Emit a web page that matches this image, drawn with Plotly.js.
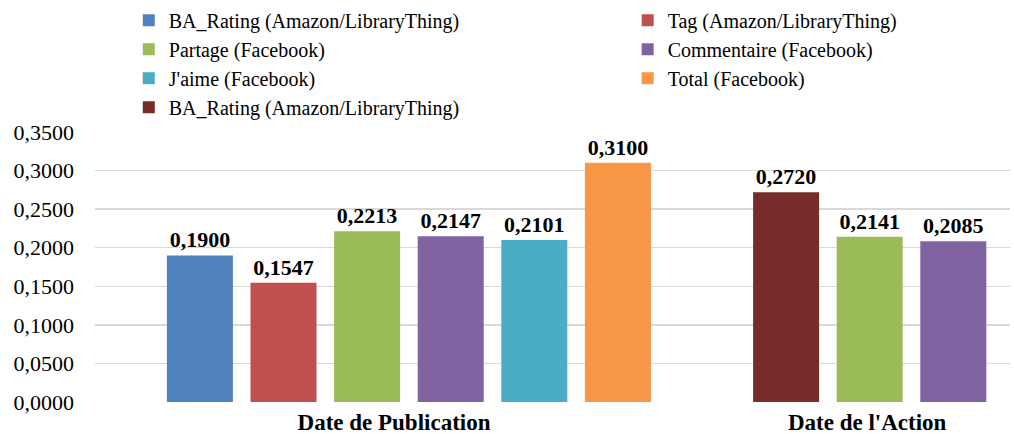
<!DOCTYPE html>
<html>
<head>
<meta charset="utf-8">
<script src="https://cdn.plot.ly/plotly-3.0.1.min.js"></script>
<style>html,body{margin:0;padding:0;background:#fff;}#chart{width:1014px;height:434px;}</style>
</head>
<body>
<div id="chart"></div>
<script>
// ---- data ----
const categories = ['Date de Publication', "Date de l'Action"];
const seriesNames = [
  'BA_Rating (Amazon/LibraryThing)',
  'Tag (Amazon/LibraryThing)',
  'Partage (Facebook)',
  'Commentaire (Facebook)',
  "J'aime (Facebook)",
  'Total (Facebook)',
  'BA_Rating (Amazon/LibraryThing)'
];
const baRatingValues = [0.1900, null];
const tagValues = [0.1547, null];
const partageValues = [0.2213, 0.2141];
const commentaireValues = [0.2147, 0.2085];
const jaimeValues = [0.2101, null];
const totalValues = [0.3100, null];
const baRatingActionValues = [null, 0.2720];
const yTickValues = [0, 0.05, 0.10, 0.15, 0.20, 0.25, 0.30, 0.35];

// ---- styles / layout ----
const seriesValues = [baRatingValues, tagValues, partageValues, commentaireValues, jaimeValues, totalValues, baRatingActionValues];
const colors = ['#4F81BD', '#C0504D', '#9BBB59', '#8064A2', '#4BACC6', '#F79646', '#772C2A'];
const legendOf = ['legend', 'legend2', 'legend', 'legend2', 'legend', 'legend2', 'legend'];
const slotOrder = [[0, 1, 2, 3, 4, 5], [6, 2, 3]];
const groupStart = [-0.480, -0.241];
const pitch = 0.1767;
const barWidth = 0.1395;
const serif = 'Liberation Serif, Times New Roman, Times, serif';

const traces = seriesNames.map((name, s) => {
  const xs = [], ys = [], offs = [];
  seriesValues[s].forEach((v, c) => {
    if (v === null || v === undefined) return;
    xs.push(categories[c]);
    ys.push(v);
    offs.push(groupStart[c] + slotOrder[c].indexOf(s) * pitch);
  });
  return {
    type: 'bar', name: name, x: xs, y: ys,
    offset: offs, width: barWidth,
    legend: legendOf[s],
    marker: {color: colors[s]},
    texttemplate: '%{y:.4f}', textposition: 'outside',
    constraintext: 'none', cliponaxis: false,
    textfont: {family: serif, size: 22, color: '#000', weight: 'bold'},
    hoverinfo: 'skip'
  };
});

const legendFont = {family: serif, size: 20, color: '#000'};
const layout = {
  width: 1014, height: 434,
  margin: {l: 95, r: 4, t: 132, b: 31.5, autoexpand: false},
  paper_bgcolor: '#fff', plot_bgcolor: '#fff',
  separators: ', ',
  barmode: 'overlay',
  showlegend: true,
  font: {family: serif, color: '#000'},
  legend: {
    orientation: 'v', xref: 'container', yref: 'container',
    x: 0.127, xanchor: 'left', y: 0.998, yanchor: 'top',
    font: legendFont, traceorder: 'normal', itemclick: false, itemdoubleclick: false
  },
  legend2: {
    orientation: 'v', xref: 'container', yref: 'container',
    x: 0.619, xanchor: 'left', y: 0.998, yanchor: 'top',
    font: legendFont, traceorder: 'normal', itemclick: false, itemdoubleclick: false
  },
  xaxis: {
    type: 'category', categoryorder: 'array', categoryarray: categories,
    range: [-0.632, 1.302], showgrid: false, zeroline: false, showline: false,
    ticks: '', ticklabelstandoff: 4, tickangle: 0,
    tickfont: {family: serif, size: 23, color: '#000', weight: 'bold'}
  },
  yaxis: {
    range: [0, 0.35], tickvals: yTickValues, tickformat: '.4f',
    showgrid: true, gridcolor: '#d9d9d9', gridwidth: 1.5,
    zeroline: false, showline: false, ticks: '', ticklabelstandoff: 20,
    tickfont: {family: serif, size: 22, color: '#000'}
  }
};

Plotly.newPlot('chart', traces, layout, {displayModeBar: false, staticPlot: true});
</script>
</body>
</html>
